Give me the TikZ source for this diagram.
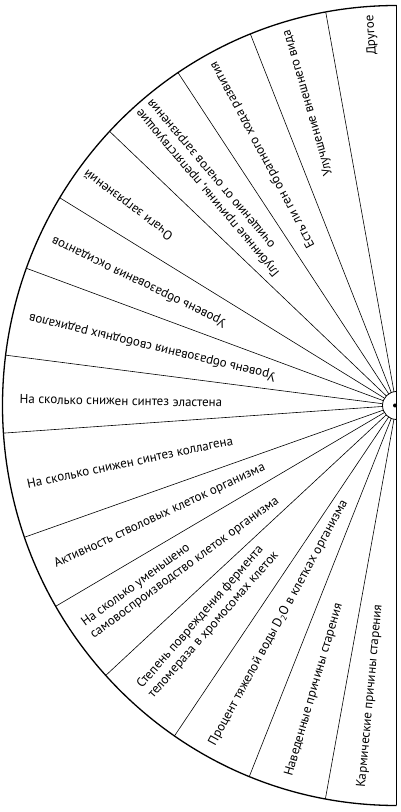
\documentclass[tikz,border=0pt]{standalone}
\usepackage{fontspec}
\setmainfont{PT Sans}
\usetikzlibrary{calc}
\newcommand{\subtwo}{\raisebox{-0.35ex}{\fontsize{8.5}{8.5}\selectfont 2}}
\begin{document}
\begin{tikzpicture}[x=1pt,y=1pt,
  lab/.style={font=\fontsize{13}{15}\selectfont, inner sep=0pt},
  uplab/.style={lab, anchor=east, align=right},
  lolab/.style={lab, anchor=west, align=left},
  spoke/.style={line width=0.6pt},
  rim/.style={line width=1.3pt},
  thinline/.style={line width=0.8pt}]
\useasboundingbox (0,0) rectangle (400,812);
\coordinate (C) at (396.5,406.5);
\coordinate (T) at (396.5,806.5);
\coordinate (B) at (396.5,6.5);
% outer rim
\draw[rim] (T) arc[start angle=90,end angle=270,x radius=394,y radius=400];
\draw[thinline] (T) -- (B);
% spokes
\foreach \t in {100.35,111.77,123.68,136.74,148.72,159.94,172.77,183.96,199.23,210.13,222.44,235.7,248.06,259.6}
  \draw[spoke] ($(C)+(\t:14)$) -- ($(C)+(\t:394 and 400)$);
% hub
\draw[thinline] ($(C)+(0,14)$) arc[start angle=90,end angle=270,radius=14];
\fill ($(C)+(-1.5,0)$) circle (2);
% upper labels (read outward)
\node[uplab, rotate=93.9] (l1) at ($(C)+(93.9:391.4)$) {Другое};
\node[uplab, rotate=106.3] (l2) at ($(C)+(106.3:391)$) {Улучшение внешнего вида};
\node[uplab, rotate=118.1] (l3) at ($(C)+(118.1:389)$) {Есть ли ген обратного хода развития};
\node[uplab, rotate=130.2] (l4) at ($(C)+(130.1:392)$) {Глубинные причины, препятствующие\\очищению от очагов загрязнения};
\node[uplab, rotate=143.1] (l5) at ($(C)+(143.1:389)$) {Очаги загрязнений};
\node[uplab, rotate=154.3] (l6) at ($(C)+(154.3:382)$) {Уровень образования оксидантов};
\node[uplab, rotate=166.5] (l7) at ($(C)+(166.5:378)$) {Уровень образования свободных радикалов};
% lower labels (read inward)
\node[lolab, rotate=-1] (l8) at ($(C)+(179:377)$) {На сколько снижен синтез эластена};
\node[lolab, rotate=12] (l9) at ($(C)+(192:377.7)$) {На сколько снижен синтез коллагена};
\node[lolab, rotate=25] (l10) at ($(C)+(205:377)$) {Активность стволовых клеток организма};
\node[lolab, rotate=36.3] (l11) at ($(C)+(216:382)$) {На сколько уменьшено\\самовоспроизводство клеток организма};
\node[lolab, rotate=48.8] (l12) at ($(C)+(228.7:381)$) {Степень повреждения фермента\\теломераза в хромосомах клеток};
\node[lolab, rotate=61.5] (l13) at ($(C)+(241.5:386.4)$) {Процент тяжелой воды D\subtwo O в клетках организма};
\node[lolab, rotate=73.8] (l14) at ($(C)+(253.8:385.8)$) {Наведенные причины старения};
\node[lolab, rotate=84.8] (l15) at ($(C)+(264.8:384)$) {Кармические причины старения};
\end{tikzpicture}
\end{document}
